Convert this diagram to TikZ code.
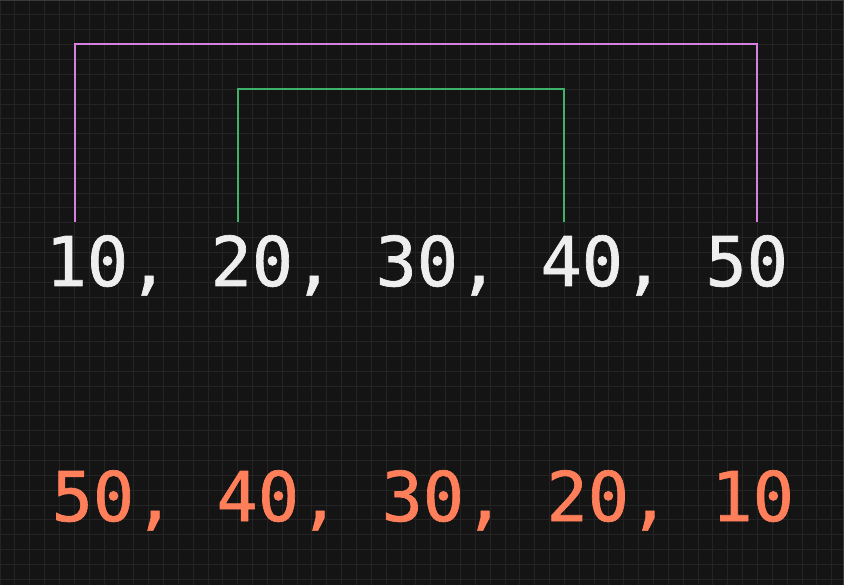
\documentclass[tikz,border=0pt]{standalone}
\usepackage{fontspec}
\usepackage{tikz}
\newfontfamily\codefont[FakeBold=1]{DejaVu Sans Mono}
\definecolor{bgdark}{HTML}{141414}
\definecolor{gridline}{HTML}{242424}
\definecolor{frameline}{HTML}{3A3A3A}
\definecolor{numwhite}{HTML}{EEEEEE}
\definecolor{numorange}{HTML}{FF7F5A}
\definecolor{outerpink}{HTML}{D680E0}
\definecolor{innergreen}{HTML}{3FB26A}
\tikzset{
  numbers/.style={inner sep=0pt, anchor=base west, font=\codefont\fontsize{68.5}{68.5}\selectfont},
  swapline/.style={line width=2pt, line join=miter}
}
\begin{document}
\begin{tikzpicture}[x=1pt,y=-1pt]
		\fill [bgdark] (0,0) rectangle (844,585);
		\useasboundingbox (0,0) rectangle (844,585);
		\draw [gridline, line width=0.8pt, step=14.85pt] (0,0) grid (844,585);
		\draw [frameline, line width=1.2pt] (0,0.6) -- (843.4,0.6) -- (843.4,585);
		\node [numbers, text=numwhite] (orig) at (45.5,286) {10, 20, 30, 40, 50};
		\node [numbers, text=numorange] (rev) at (51.5,521) {50, 40, 30, 20, 10};
		\coordinate (ten) at (75,222);
		\coordinate (fifty) at (757,222);
		\coordinate (outertop) at (757,44);
		\coordinate (twenty) at (238,222);
		\coordinate (forty) at (564,222);
		\coordinate (innertop) at (564,89);
		\draw [swapline, outerpink] (ten) |- (outertop) -- (fifty);
		\draw [swapline, innergreen] (twenty) |- (innertop) -- (forty);
\end{tikzpicture}
\end{document}
